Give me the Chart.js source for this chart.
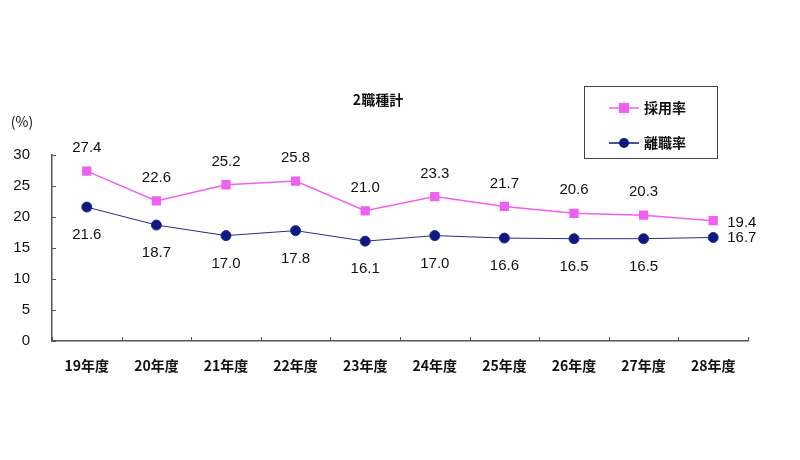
<!DOCTYPE html>
<html>
<head>
<meta charset="utf-8">
<script src="https://cdn.jsdelivr.net/npm/chart.js@4"></script>
<style>
  body { margin: 0; background: #fff; }
  canvas { display: block; }
</style>
</head>
<body>
<canvas id="chart" width="800" height="460"></canvas>
<script>
const years = ['19年度', '20年度', '21年度', '22年度', '23年度', '24年度', '25年度', '26年度', '27年度', '28年度'];
const hireRate = [27.4, 22.6, 25.2, 25.8, 21.0, 23.3, 21.7, 20.6, 20.3, 19.4];
const leaveRate = [21.6, 18.7, 17.0, 17.8, 16.1, 17.0, 16.6, 16.5, 16.5, 16.7];
const yTicks = [0, 5, 10, 15, 20, 25, 30];
const chartTitle = '2職種計';
const unitLabel = '(%)';

const PINK = '#f060f0';
const NAVY = '#0a1a80';
const TEXT = '#111';
const numFont = '15px "Liberation Sans", Arial, sans-serif';
const jpFont = '14px "Noto Sans CJK JP", sans-serif';

// labels, inward ticks, title and boxed legend
const decorations = {
  id: 'decorations',
  afterDatasetsDraw(chart) {
    const ctx = chart.ctx;
    const area = chart.chartArea;
    const y = chart.scales.y;
    ctx.save();

    // inward tick marks
    ctx.strokeStyle = '#555';
    ctx.lineWidth = 1;
    yTicks.forEach(v => {
      const py = Math.round(y.getPixelForValue(v)) + 0.5;
      ctx.beginPath(); ctx.moveTo(area.left, py); ctx.lineTo(area.left + 4, py); ctx.stroke();
    });
    for (let i = 0; i <= years.length; i++) {
      const px = Math.round(area.left + (area.right - area.left) * i / years.length) + 0.5;
      ctx.beginPath(); ctx.moveTo(px, area.bottom); ctx.lineTo(px, area.bottom - 4); ctx.stroke();
    }

    // data labels
    ctx.font = numFont;
    ctx.fillStyle = TEXT;
    ctx.textBaseline = 'middle';
    const last = years.length - 1;
    chart.getDatasetMeta(0).data.forEach((pt, i) => {
      const txt = hireRate[i].toFixed(1);
      if (i === last) { ctx.textAlign = 'left'; ctx.fillText(txt, pt.x + 14, pt.y + 2); }
      else { ctx.textAlign = 'center'; ctx.fillText(txt, pt.x, pt.y - 23); }
    });
    chart.getDatasetMeta(1).data.forEach((pt, i) => {
      const txt = leaveRate[i].toFixed(1);
      if (i === last) { ctx.textAlign = 'left'; ctx.fillText(txt, pt.x + 14, pt.y); }
      else { ctx.textAlign = 'center'; ctx.fillText(txt, pt.x, pt.y + 28); }
    });

    // title and unit
    ctx.font = 'bold 14px "Noto Sans CJK JP", sans-serif';
    ctx.textAlign = 'center';
    ctx.fillText(chartTitle, 378, 100);
    ctx.font = '14px "Noto Sans CJK JP", sans-serif';
    ctx.fillText(unitLabel, 22, 122);

    // legend box
    ctx.strokeStyle = '#444';
    ctx.lineWidth = 1;
    ctx.strokeRect(584.5, 86.5, 133, 72);
    const items = [
      { label: '採用率', color: PINK, style: 'rect', yy: 108 },
      { label: '離職率', color: NAVY, style: 'circle', yy: 143 }
    ];
    items.forEach(it => {
      ctx.strokeStyle = it.color;
      ctx.lineWidth = 1.5;
      ctx.beginPath(); ctx.moveTo(609, it.yy); ctx.lineTo(639, it.yy); ctx.stroke();
      ctx.fillStyle = it.color;
      if (it.style === 'rect') ctx.fillRect(619, it.yy - 5, 10, 10);
      else { ctx.beginPath(); ctx.arc(624, it.yy, 5, 0, Math.PI * 2); ctx.fill(); }
      ctx.fillStyle = TEXT;
      ctx.font = 'bold 14px "Noto Sans CJK JP", sans-serif';
      ctx.textAlign = 'left';
      ctx.fillText(it.label, 644, it.yy);
    });
    ctx.restore();
  }
};

new Chart(document.getElementById('chart'), {
  type: 'line',
  data: {
    labels: years,
    datasets: [
      {
        label: '採用率',
        data: hireRate,
        borderColor: PINK,
        backgroundColor: PINK,
        borderWidth: 1.5,
        pointStyle: 'rect',
        pointRadius: 5.5,
        pointHoverRadius: 5.5,
        tension: 0
      },
      {
        label: '離職率',
        data: leaveRate,
        borderColor: '#2a2a8a',
        backgroundColor: NAVY,
        borderWidth: 1,
        pointStyle: 'circle',
        pointRadius: 5,
        pointHoverRadius: 5,
        tension: 0
      }
    ]
  },
  options: {
    responsive: false,
    animation: false,
    layout: { padding: { top: 155, right: 52, left: 0, bottom: 0 } },
    plugins: {
      legend: { display: false },
      tooltip: { enabled: false }
    },
    scales: {
      x: {
        offset: true,
        grid: { display: false },
        border: { display: true, color: '#555', width: 1.5 },
        ticks: { color: TEXT, font: { family: '"Noto Sans CJK JP", sans-serif', size: 14, weight: 'bold' }, padding: 8, maxRotation: 0 },
        afterFit(scale) { scale.height = 119; }
      },
      y: {
        min: 0,
        max: 30,
        grid: { display: false },
        border: { display: true, color: '#555', width: 1.5 },
        ticks: {
          stepSize: 5,
          color: TEXT,
          font: { family: '"Liberation Sans", Arial, sans-serif', size: 15 },
          padding: 14
        },
        afterFit(scale) { scale.width = 52; }
      }
    }
  },
  plugins: [decorations]
});
</script>
</body>
</html>
